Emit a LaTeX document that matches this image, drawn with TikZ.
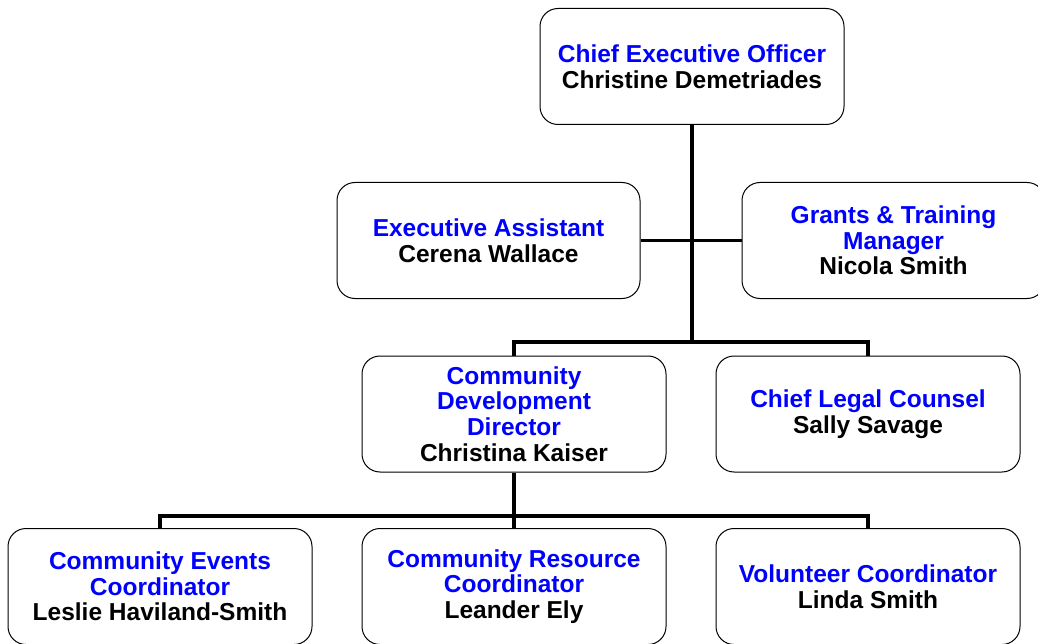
\documentclass[tikz,border=0pt]{standalone}
\usepackage{fontspec}
\setmainfont{Liberation Sans}
\definecolor{titleblue}{RGB}{0,0,255}
\tikzset{
  orgbox/.style={draw=black, line width=1pt, rounded corners=18pt, fill=white,
    minimum width=304pt, minimum height=116pt, align=center,
    font=\fontsize{24.5}{25.7}\selectfont\bfseries, inner sep=2pt},
  link/.style={line width=3.2pt, black}
}
\newcommand{\ttl}[1]{\textcolor{titleblue}{#1}}
\begin{document}
\begin{tikzpicture}[x=1pt,y=-1pt]
\useasboundingbox (0,0) rectangle (1038,644);
\node[orgbox] (ceo) at (692,66.5) {\ttl{Chief Executive Officer}\\Christine Demetriades};
\node[orgbox, minimum width=303pt] (ea) at (488.5,240.5) {\ttl{Executive Assistant}\\Cerena Wallace};
\node[orgbox, minimum width=303pt] (gtm) at (893.5,240.5) {\ttl{Grants \& Training}\\\ttl{Manager}\\Nicola Smith};
\node[orgbox] (cdd) at (514,414) {\ttl{Community}\\\ttl{Development}\\\ttl{Director}\\Christina Kaiser};
\node[orgbox] (clc) at (868,414) {\ttl{Chief Legal Counsel}\\Sally Savage};
\node[orgbox] (cec) at (160,586.5) {\ttl{Community Events}\\\ttl{Coordinator}\\Leslie Haviland-Smith};
\node[orgbox] (crc) at (514,586.5) {\ttl{Community Resource}\\\ttl{Coordinator}\\Leander Ely};
\node[orgbox] (vc) at (868,586.5) {\ttl{Volunteer Coordinator}\\Linda Smith};
\coordinate (j1) at (692,342);
\coordinate (j2) at (514,516);
\draw[link] (ceo.south) -- (j1);
\draw[link] (ea.east) -- (gtm.west);
\draw[link] (cdd.north) |- (j1) -| (clc.north);
\draw[link] (cdd.south) -- (crc.north);
\draw[link] (cec.north) |- (j2) -| (vc.north);
\end{tikzpicture}
\end{document}
